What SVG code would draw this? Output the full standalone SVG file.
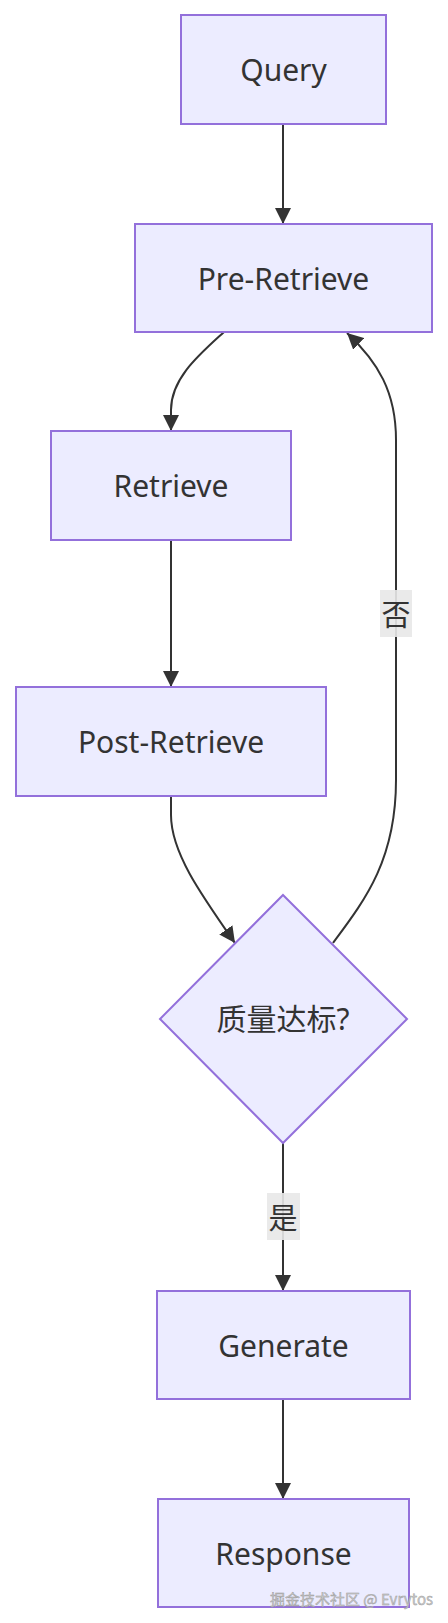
<svg xmlns="http://www.w3.org/2000/svg" width="448" height="1623" viewBox="0 0 448 1623">
<style>
.node rect,.node polygon{fill:#ECECFF;stroke:#9370DB;stroke-width:2}
.lbl{font-family:"Noto Sans","Noto Sans CJK SC",sans-serif;font-size:30px;fill:#333;text-anchor:middle;dominant-baseline:central}
.edge{fill:none;stroke:#333;stroke-width:2}
.ebg{fill:#e8e8e8;opacity:0.9}
.elbl{font-family:"Noto Sans CJK SC",sans-serif;font-size:29px;fill:#333;text-anchor:middle;dominant-baseline:central}
.wm{font-family:"Noto Sans CJK SC",sans-serif;font-size:15px;fill:#c8c8c8;stroke:#999;stroke-width:0.4;text-anchor:end}
</style>
<defs>
<marker id="arr" viewBox="0 0 10 10" refX="10" refY="5" markerUnits="userSpaceOnUse" markerWidth="16" markerHeight="16" orient="auto">
<path d="M0,0 L10,5 L0,10 z" fill="#333"/>
</marker>
</defs>
<g id="connectors">
<path class="edge" d="M283,124 L283,224" marker-end="url(#arr)"/>
<path class="edge" d="M224,332 C200,354 171,378 171,410 L171,431" marker-end="url(#arr)"/>
<path class="edge" d="M171,540 L171,687" marker-end="url(#arr)"/>
<path class="edge" d="M171,796 L171,815 C171,852 200,893 235,943" marker-end="url(#arr)"/>
<path class="edge" d="M333,943 C365,900 396,860 396,780 L396,440 C396,392 378,362 347,333" marker-end="url(#arr)"/>
<path class="edge" d="M283,1143 L283,1291" marker-end="url(#arr)"/>
<path class="edge" d="M283,1399 L283,1499" marker-end="url(#arr)"/>
<rect class="ebg" x="380" y="590" width="32" height="47"/>
<text class="elbl" x="396" y="613">否</text>
<rect class="ebg" x="267" y="1193" width="33" height="47"/>
<text class="elbl" x="283" y="1216">是</text>
</g>
<g id="query" class="node"><rect x="181" y="15" width="205" height="109"/><text class="lbl" x="283.5" y="69">Query</text></g>
<g id="pre" class="node"><rect x="135" y="224" width="297" height="108"/><text class="lbl" x="283.5" y="278">Pre-Retrieve</text></g>
<g id="retrieve" class="node"><rect x="51" y="431" width="240" height="109"/><text class="lbl" x="171" y="485">Retrieve</text></g>
<g id="post" class="node"><rect x="16" y="687" width="310" height="109"/><text class="lbl" x="171" y="741">Post-Retrieve</text></g>
<g id="decision" class="node"><polygon points="283,895 407,1019 283,1143 160,1019"/><text class="lbl" x="283" y="1018">质量达标?</text></g>
<g id="generate" class="node"><rect x="157" y="1291" width="253" height="108"/><text class="lbl" x="283.5" y="1345">Generate</text></g>
<g id="response" class="node"><rect x="158" y="1499" width="251" height="108"/><text class="lbl" x="283.5" y="1553">Response</text></g>
<text class="wm" x="433" y="1605">掘金技术社区 @ Evrytos</text>
</svg>
